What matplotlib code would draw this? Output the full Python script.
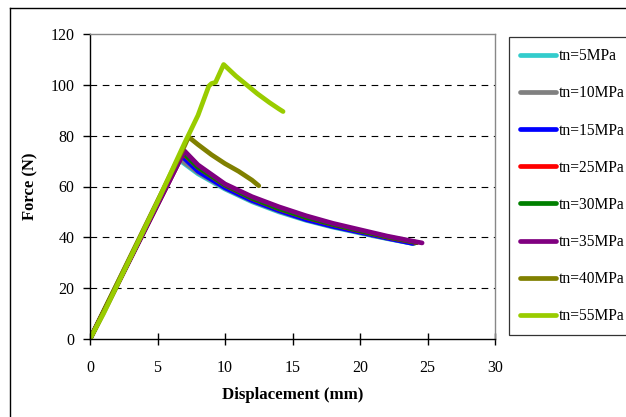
import matplotlib
matplotlib.use("Agg")
import matplotlib.pyplot as plt
from matplotlib.lines import Line2D

plt.rcParams['font.family'] = ['Liberation Serif', 'DejaVu Serif']

labels = ["tn=5MPa", "tn=10MPa", "tn=15MPa", "tn=25MPa", "tn=30MPa", "tn=35MPa", "tn=40MPa", "tn=55MPa"]
colors = ["#33CCCC", "#808080", "#0000FF", "#FF0000", "#008000", "#800080", "#808000", "#99CC00"]

x5 = [0, 6.6, 8, 10, 12, 14, 16, 18, 20, 22, 24]
y5 = [0, 70.5, 65, 59, 54, 50, 46.7, 44, 41.7, 39.5, 37.5]
x10 = [0, 6.6, 8, 10, 12, 14, 16, 18, 20, 22, 24]
y10 = [0, 71, 65.5, 59.3, 54.3, 50.3, 46.9, 44.2, 41.9, 39.6, 37.6]
x15 = [0, 6.8, 8, 10, 12, 14, 16, 18, 20, 22, 23.9]
y15 = [0, 72, 66, 59.5, 54.5, 50.5, 47, 44.3, 42, 39.7, 37.6]
x25 = [0, 6.9, 8, 10, 12, 14, 16, 18, 20, 22, 24.2]
y25 = [0, 73, 67.5, 60.5, 55.3, 51.2, 47.8, 45, 42.5, 40.1, 37.9]
x30 = [0, 6.9, 8, 10, 12, 14, 16, 18, 20, 22, 24.2]
y30 = [0, 73.3, 67.6, 60.6, 55.4, 51.3, 47.9, 45.1, 42.6, 40.2, 38]
x35 = [0, 7, 8, 10, 12, 14, 16, 18, 20, 22, 24, 24.6]
y35 = [0, 74, 68.5, 61, 56, 52, 48.5, 45.5, 43, 40.5, 38.4, 37.8]
x40 = [0, 7.0, 7.3, 8, 9, 10, 11, 12, 12.5]
y40 = [0, 76, 79.5, 76.5, 72.5, 69, 66, 62.5, 60.3]
x55 = [0, 1, 2, 3, 4, 5, 6, 7, 8, 8.8, 9.0, 9.3, 9.6, 9.9, 10.2, 10.8, 11.6, 12.4, 13.3, 14.0, 14.3]
y55 = [0, 10, 21, 32, 43, 54, 65.5, 77, 88, 99.5, 100.5, 101, 104.5, 108, 106.5, 103.5, 100, 96.5, 93, 90.5, 89.5]

series_x = [x5, x10, x15, x25, x30, x35, x40, x55]
series_y = [y5, y10, y15, y25, y30, y35, y40, y55]

xticks = [0, 5, 10, 15, 20, 25, 30]
yticks = [0, 20, 40, 60, 80, 100, 120]

W, H = 626, 417
fig = plt.figure(figsize=(W / 100, H / 100), dpi=100)
ax = fig.add_axes([90 / W, (H - 339) / H, 405 / W, 305 / H])

handles = []
for xs, ys, c, lab in zip(series_x, series_y, colors, labels):
    h, = ax.plot(xs, ys, color=c, lw=3.4, label=lab, solid_capstyle='round')
    handles.append(h)

ax.set_xlim(0, 30)
ax.set_ylim(0, 120)
ax.set_xticks(xticks)
ax.set_yticks(yticks)
for v in yticks[1:-1]:
    ax.axhline(v, color='black', lw=0.8, dashes=(6, 5), zorder=0)

for s in ['top', 'right']:
    ax.spines[s].set_color('#888888')
    ax.spines[s].set_linewidth(1.0)
for s in ['left', 'bottom']:
    ax.spines[s].set_color('black')
    ax.spines[s].set_linewidth(1.0)

ax.tick_params(axis='x', direction='inout', length=9, width=1, labelsize=11.5, pad=10.5)
ax.tick_params(axis='y', direction='out', length=5, width=1, labelsize=11.5, pad=6)

ax.set_xlabel("Displacement (mm)", fontsize=12.2, fontweight='bold', labelpad=8)
ax.set_ylabel("Force (N)", fontsize=12, fontweight='bold', labelpad=9)

leg = fig.legend(handles=handles, labels=labels, loc='upper left',
                 bbox_to_anchor=(509 / W, 1 - 37 / H), bbox_transform=fig.transFigure,
                 frameon=True, fancybox=False, edgecolor='black', fontsize=11.2,
                 labelspacing=1.36, handlelength=2.3, handletextpad=0.2,
                 borderpad=0.72, borderaxespad=0)
leg.get_frame().set_linewidth(0.9)

# outer chart frame
fig.add_artist(Line2D([10 / W, 1.0], [1 - 8 / H, 1 - 8 / H], color='black', lw=1, transform=fig.transFigure))
fig.add_artist(Line2D([10 / W, 10 / W], [0, 1 - 8 / H], color='black', lw=1, transform=fig.transFigure))

fig.savefig("out.png", dpi=100)
